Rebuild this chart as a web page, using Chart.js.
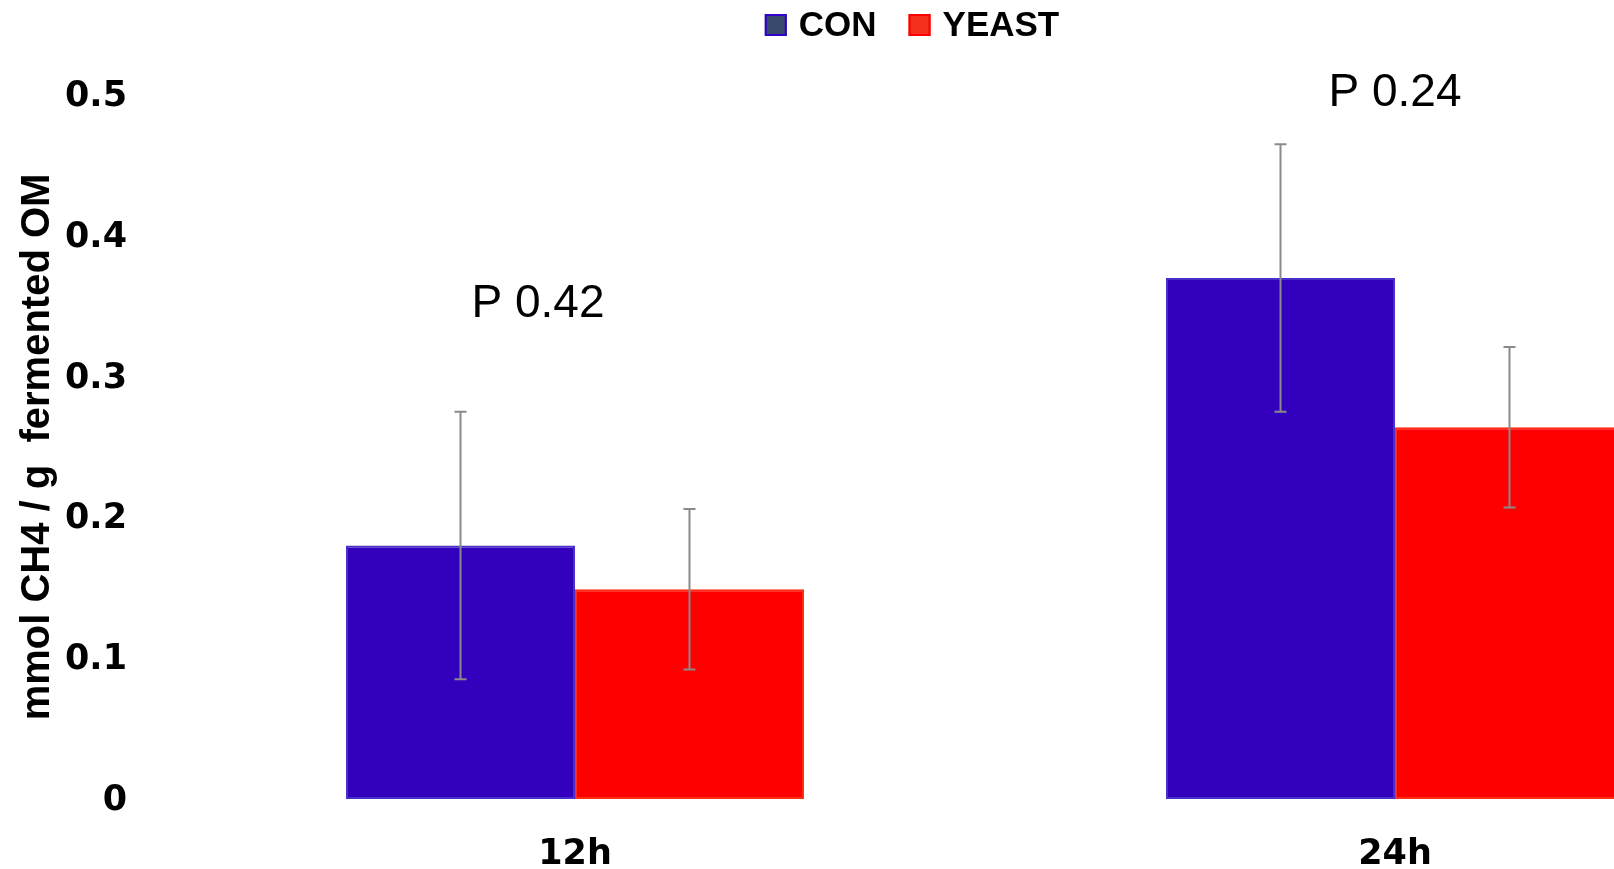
<!DOCTYPE html>
<html>
<head>
<meta charset="utf-8">
<script src="https://cdn.jsdelivr.net/npm/chart.js@4.4.1/dist/chart.umd.min.js"></script>
<style>
    html, body { margin: 0; padding: 0; background: #fff; overflow: hidden; }
    #wrap { width: 1805px; height: 869px; }
</style>
</head>
<body>
<div id="wrap"><canvas id="methaneChart" width="1805" height="869"></canvas></div>
<script>
const categories = ['12h', '24h'];
const seriesNames = ['CON', 'YEAST'];
const conValues = [0.18, 0.37];
const yeastValues = [0.149, 0.264];
const conErrors = [0.095, 0.095];
const yeastErrors = [0.057, 0.057];
const pLabels = ['P 0.42', 'P 0.24'];
const pHeights = [0.342, 0.492];
const yTicks = [0, 0.1, 0.2, 0.3, 0.4, 0.5];

// gray error whiskers on top of each bar
const errorBars = {
    id: 'errorBars',
    afterDatasetsDraw(chart) {
        const ctx = chart.ctx;
        const y = chart.scales.y;
        chart.data.datasets.forEach((ds, i) => {
            chart.getDatasetMeta(i).data.forEach((bar, j) => {
                const top = y.getPixelForValue(ds.data[j] + ds.errors[j]);
                const bottom = y.getPixelForValue(ds.data[j] - ds.errors[j]);
                ctx.save();
                ctx.strokeStyle = '#8a8a8a';
                ctx.lineWidth = 2;
                ctx.beginPath();
                ctx.moveTo(bar.x, top); ctx.lineTo(bar.x, bottom);
                ctx.moveTo(bar.x - 6, top); ctx.lineTo(bar.x + 6, top);
                ctx.moveTo(bar.x - 6, bottom); ctx.lineTo(bar.x + 6, bottom);
                ctx.stroke();
                ctx.restore();
            });
        });
    }
};

// "P 0.xx" notes above each group
const pValues = {
    id: 'pValues',
    afterDraw(chart, args, opts) {
        const ctx = chart.ctx;
        ctx.save();
        ctx.font = '46px "Liberation Sans", Arial, sans-serif';
        ctx.fillStyle = '#000';
        ctx.textAlign = 'center';
        ctx.textBaseline = 'alphabetic';
        pLabels.forEach((txt, i) => {
            const x = chart.scales.x.getPixelForValue(i) + opts.dx[i];
            const y = chart.scales.y.getPixelForValue(pHeights[i]);
            ctx.fillText(txt, x, y);
        });
        ctx.restore();
    }
};

// legend row at the top
const topLegend = {
    id: 'topLegend',
    afterDraw(chart, args, opts) {
        const ctx = chart.ctx;
        ctx.save();
        ctx.font = 'bold 35px "Liberation Sans", Arial, sans-serif';
        ctx.textBaseline = 'middle';
        const widths = seriesNames.map(n => ctx.measureText(n).width);
        let total = 0;
        widths.forEach(w => total += opts.box + opts.gap + w);
        total += opts.spacing * (widths.length - 1);
        let x = opts.center - total / 2;
        seriesNames.forEach((name, i) => {
            ctx.fillStyle = opts.fills[i];
            ctx.fillRect(x, opts.y - opts.box / 2, opts.box, opts.box);
            ctx.strokeStyle = opts.borders[i];
            ctx.lineWidth = 2;
            ctx.strokeRect(x + 1, opts.y - opts.box / 2 + 1, opts.box - 2, opts.box - 2);
            ctx.fillStyle = '#000';
            ctx.fillText(name, x + opts.box + opts.gap, opts.y + 1);
            x += opts.box + opts.gap + widths[i] + opts.spacing;
        });
        ctx.restore();
    }
};

const ctx = document.getElementById('methaneChart').getContext('2d');
new Chart(ctx, {
    type: 'bar',
    data: {
        labels: categories,
        datasets: [{
            label: seriesNames[0],
            data: conValues,
            errors: conErrors,
            backgroundColor: '#3300be',
            borderColor: '#4531c9',
            borderWidth: 2,
            borderSkipped: false,
        }, {
            label: seriesNames[1],
            data: yeastValues,
            errors: yeastErrors,
            backgroundColor: '#ff0000',
            borderColor: '#ff2d14',
            borderWidth: 2,
            borderSkipped: false,
        }]
    },
    options: {
        responsive: false,
        animation: false,
        layout: { padding: { top: 95, right: 0, bottom: 0, left: 0 } },
        datasets: {
            bar: { categoryPercentage: 0.5585, barPercentage: 1 }
        },
        scales: {
            x: {
                grid: { display: false, drawTicks: false },
                border: { display: false },
                ticks: {
                    color: '#000',
                    padding: 35,
                    font: { family: '"DejaVu Sans", sans-serif', size: 35, weight: 'bold' }
                },
                afterFit(scale) { scale.height = 70; }
            },
            y: {
                min: 0,
                max: 0.5,
                grid: { display: false, drawTicks: false },
                border: { display: false },
                afterBuildTicks(scale) { scale.ticks = yTicks.map(v => ({ value: v })); },
                ticks: {
                    color: '#000',
                    padding: 38,
                    labelOffset: 2,
                    font: { family: '"DejaVu Sans", sans-serif', size: 35, weight: 'bold' },
                    callback: v => String(Math.round(v * 10) / 10)
                },
                title: {
                    display: true,
                    text: 'mmol CH4 / g  fermented OM',
                    color: '#000',
                    padding: { top: 14, bottom: 0 },
                    font: { family: '"Liberation Sans", Arial, sans-serif', size: 40, weight: 'bold' }
                },
                afterFit(scale) { scale.width = 165; }
            }
        },
        plugins: {
            legend: { display: false },
            tooltip: { enabled: false },
            pValues: { dx: [-37, 0] },
            topLegend: {
                center: 912,
                y: 25,
                box: 22,
                gap: 12,
                spacing: 32,
                fills: ['#38486a', '#f5301c'],
                borders: ['#3300cc', '#ff0000']
            }
        }
    },
    plugins: [errorBars, pValues, topLegend]
});
</script>
</body>
</html>
